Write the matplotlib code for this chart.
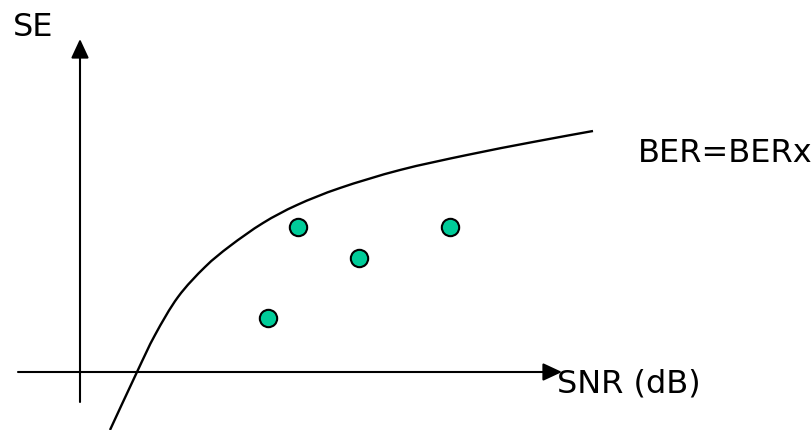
import matplotlib
matplotlib.use('Agg')
import numpy as np
import matplotlib.pyplot as plt
from matplotlib.patches import FancyArrowPatch, PathPatch
from matplotlib.path import Path

# schematic data, origin at the axes crossing (units ~ pixels)
curve_snr = [30, 57, 75, 98, 125, 150, 183, 217, 260, 320, 387, 453, 513]
curve_se = [-58, 0, 37, 75, 105, 126, 149, 167, 184, 202, 217, 230, 241]
points_snr = [188, 218, 279, 370]
points_se = [54, 145, 114, 145]

x_axis = (-62, 482)
y_axis = (-30, 333)

fig = plt.figure(figsize=(8.12, 4.30), dpi=100)
ax = fig.add_axes([0, 0, 1, 1])
ax.set_xlim(-80, 732)
ax.set_ylim(-58, 372)
ax.axis('off')

for start, end in [((x_axis[0], 0), (x_axis[1], 0)), ((0, y_axis[0]), (0, y_axis[1]))]:
    ax.add_patch(FancyArrowPatch(start, end, arrowstyle='-|>,head_length=0.58,head_width=0.27',
                                 mutation_scale=20, color='black', lw=1.5,
                                 shrinkA=0, shrinkB=0))

# smooth path through the traced points (catmull-rom as bezier pieces)
p = np.column_stack([curve_snr, curve_se]).astype(float)
ext = np.vstack([p[0], p, p[-1]])
verts = [p[0]]
for i in range(len(p) - 1):
    verts.append(p[i] + (ext[i + 2] - ext[i]) / 6)
    verts.append(p[i + 1] - (ext[i + 3] - ext[i + 1]) / 6)
    verts.append(p[i + 1])
codes = [Path.MOVETO] + [Path.CURVE4] * (len(verts) - 1)
ax.add_patch(PathPatch(Path(verts, codes), facecolor='none', edgecolor='black',
                       lw=1.7, capstyle='butt'))

ax.plot(points_snr, points_se, 'o', ms=12.5, mfc='#00cc99', mec='black', mew=1.5)

ax.text(-47, 345, 'SE', fontsize=23, ha='center', va='center')
ax.text(477, -12, 'SNR (dB)', fontsize=23, ha='left', va='center')
ax.text(558, 218, 'BER=BERx', fontsize=23, ha='left', va='center')

plt.savefig('out.png', dpi=100)
